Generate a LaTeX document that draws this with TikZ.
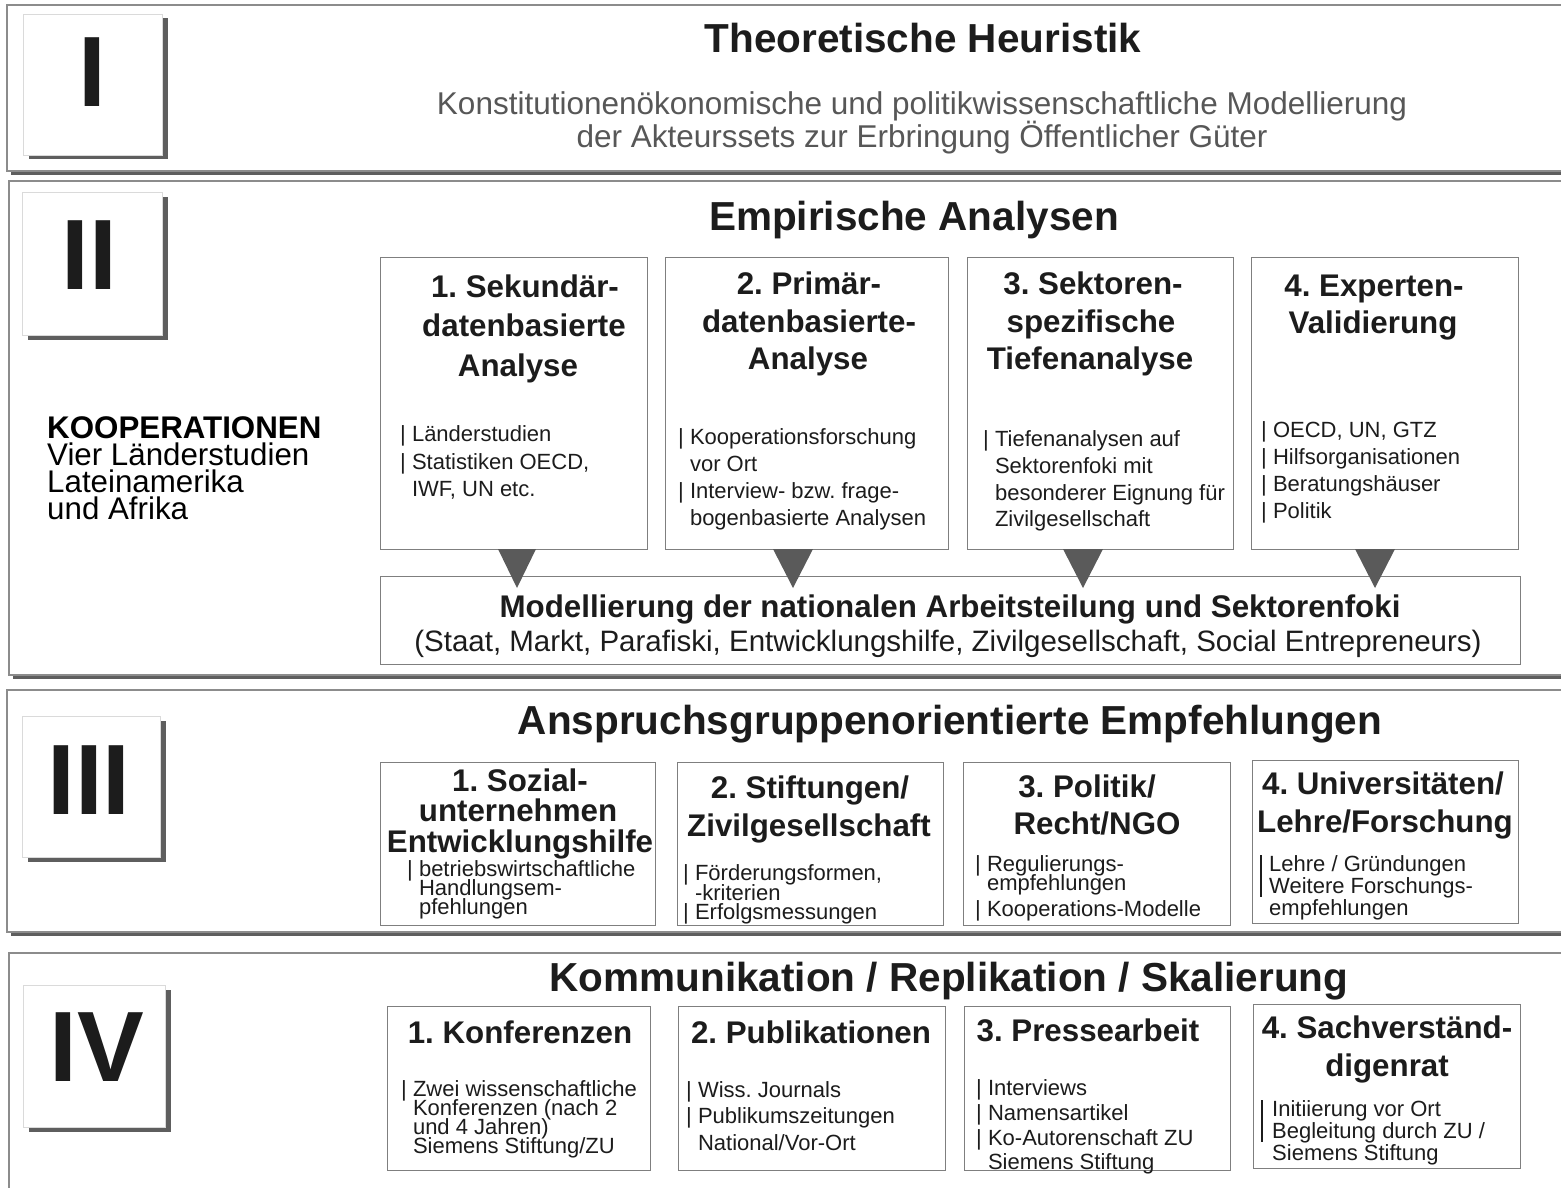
\documentclass[tikz,border=0pt]{standalone}
\usepackage{fontspec}
\setmainfont{Liberation Sans}
\usetikzlibrary{shadows}
\definecolor{frameg}{HTML}{8C8C8C}
\definecolor{shad}{HTML}{5E5E5E}
\definecolor{boxg}{HTML}{7F7F7F}
\definecolor{romb}{HTML}{DADADA}
\definecolor{txt}{HTML}{1C1C1C}
\definecolor{subt}{HTML}{575757}
\definecolor{trig}{HTML}{5A5A5A}
\begin{document}
\frenchspacing
\begin{tikzpicture}[x=1pt,y=-1pt,
  sect/.style={draw=frameg, line width=1.3pt, fill=white, drop shadow={shadow xshift=4pt, shadow yshift=-4pt, fill=shad, opacity=1}},
  rbox/.style={draw=romb, line width=1pt, fill=white, inner sep=0, anchor=north west, drop shadow={shadow xshift=5pt, shadow yshift=-4pt, fill=shad, opacity=1}},
  cbox/.style={draw=boxg, line width=1.2pt, fill=white, inner sep=0, anchor=north west},
  rom/.style={font=\fontsize{100}{100}\selectfont\bfseries, text=txt, anchor=base, inner sep=0},
  ttl/.style={font=\fontsize{40.5}{48}\selectfont\bfseries, text=txt, anchor=base, inner sep=0},
  sub/.style={font=\fontsize{31.5}{36}\selectfont, text=subt, anchor=base, inner sep=0},
  hd/.style={font=\fontsize{31.3}{36}\selectfont\bfseries, text=txt, anchor=base, inner sep=0},
  wide/.style={font=\fontsize{29.5}{36}\selectfont, text=txt, anchor=base, inner sep=0},
  bd/.style={font=\fontsize{22}{26}\selectfont, text=txt, anchor=base west, inner sep=0},
  koop/.style={font=\fontsize{31.3}{27}\selectfont, text=black, anchor=north west, inner sep=0, align=left},
  trian/.style={fill=trig},
  vbar/.style={draw=txt, line width=1.2pt}
]
\useasboundingbox (0,0) rectangle (1561,1188);
\newcommand{\ind}{\phantom{|}\ }

% ---------- section frames
\draw[sect] (7,5) rectangle (1575,171);
\draw[sect] (9,181) rectangle (1575,675);
\draw[sect] (7,690) rectangle (1575,932);
\draw[sect] (9,953) rectangle (1575,1200);

% ---------- roman numeral boxes
\node[rbox, minimum width=139pt, minimum height=141pt] (r1) at (23,14) {};
\node[rbox, minimum width=140pt, minimum height=143pt] (r2) at (22,192) {};
\node[rbox, minimum width=138pt, minimum height=141pt] (r3) at (22,716) {};
\node[rbox, minimum width=142pt, minimum height=142pt] (r4) at (23,985) {};
\node[rom] (n1) at (92,107) {I};
\node[rom] (n2) at (89,289) {II};
\node[rom] (n3) at (89,814) {III};
\node[rom] (n4) at (97,1081) {IV};

% ---------- section I
\node[ttl] (t1) at (923,53) {Theoretische Heuristik};
\node[sub] (s1a) at (922,115) {Konstitutionenökonomische und politikwissenschaftliche Modellierung};
\node[sub] (s1b) at (922,148) {der Akteurssets zur Erbringung Öffentlicher Güter};

% ---------- section II
\node[ttl] (t2) at (914,230) {Empirische Analysen};
\node[koop] (k1) at (47,416.5) {\textbf{KOOPERATIONEN}\\Vier Länderstudien\\Lateinamerika\\und Afrika};

\node[cbox, minimum width=267pt, minimum height=292pt] (b21) at (380,257) {};
\node[cbox, minimum width=283pt, minimum height=292pt] (b22) at (665,257) {};
\node[cbox, minimum width=266pt, minimum height=292pt] (b23) at (967,257) {};
\node[cbox, minimum width=267pt, minimum height=292pt] (b24) at (1251,257) {};
\node[cbox, minimum width=1140pt, minimum height=88pt] (w2) at (380,576) {};

\fill[trian] (498,549) -- (536,549) -- (517,588) -- cycle;
\fill[trian] (773,549) -- (813,549) -- (793,588) -- cycle;
\fill[trian] (1063,549) -- (1103,549) -- (1083,588) -- cycle;
\fill[trian] (1355,549) -- (1395,549) -- (1375,588) -- cycle;

\node[hd] (h211) at (525,297) {1. Sekundär-};
\node[hd] (h212) at (524,336) {datenbasierte};
\node[hd] (h213) at (518,376) {Analyse};
\node[bd] (d211) at (400,441) {| Länderstudien};
\node[bd] (d212) at (400,469) {| Statistiken OECD,};
\node[bd] (d213) at (400,496) {\ind IWF, UN etc.};

\node[hd] (h221) at (809,294) {2. Primär-};
\node[hd] (h222) at (809,332) {datenbasierte-};
\node[hd] (h223) at (808,369) {Analyse};
\node[bd] (d221) at (678,444) {| Kooperationsforschung};
\node[bd] (d222) at (678,471) {\ind vor Ort};
\node[bd] (d223) at (678,498) {| Interview- bzw. frage-};
\node[bd] (d224) at (678,525) {\ind bogenbasierte Analysen};

\node[hd] (h231) at (1093,294) {3. Sektoren-};
\node[hd] (h232) at (1091,332) {spezifische};
\node[hd] (h233) at (1090,369) {Tiefenanalyse};
\node[bd] (d231) at (983,446) {| Tiefenanalysen auf};
\node[bd] (d232) at (983,473) {\ind Sektorenfoki mit};
\node[bd] (d233) at (983,500) {\ind besonderer Eignung für};
\node[bd] (d234) at (983,526) {\ind Zivilgesellschaft};

\node[hd] (h241) at (1374,296) {4. Experten-};
\node[hd] (h242) at (1373,333) {Validierung};
\node[bd] (d241) at (1261,437) {| OECD, UN, GTZ};
\node[bd] (d242) at (1261,464) {| Hilfsorganisationen};
\node[bd] (d243) at (1261,491) {| Beratungshäuser};
\node[bd] (d244) at (1261,518) {| Politik};

\node[hd] (wa) at (950,617) {Modellierung der nationalen Arbeitsteilung und Sektorenfoki};
\node[wide] (wb) at (948,651) {(Staat, Markt, Parafiski, Entwicklungshilfe, Zivilgesellschaft, Social Entrepreneurs)};

% ---------- section III
\node[ttl] (t3) at (950,734) {Anspruchsgruppenorientierte Empfehlungen};
\node[cbox, minimum width=275pt, minimum height=163pt] (b31) at (380,762) {};
\node[cbox, minimum width=266pt, minimum height=163pt] (b32) at (677,762) {};
\node[cbox, minimum width=267pt, minimum height=163pt] (b33) at (963,762) {};
\node[cbox, minimum width=266pt, minimum height=163pt] (b34) at (1252,760) {};

\node[hd] (h311) at (520,791) {1. Sozial-};
\node[hd] (h312) at (518,821) {unternehmen};
\node[hd] (h313) at (520,852) {Entwicklungshilfe};
\node[bd] (d311) at (407,876) {| betriebswirtschaftliche};
\node[bd] (d312) at (407,895) {\ind Handlungsem-};
\node[bd] (d313) at (407,914) {\ind pfehlungen};

\node[hd] (h321) at (810,798) {2. Stiftungen/};
\node[hd] (h322) at (809,836) {Zivilgesellschaft};
\node[bd] (d321) at (683,880) {| Förderungsformen,};
\node[bd] (d322) at (683,900) {\ind -kriterien};
\node[bd] (d323) at (683,919) {| Erfolgsmessungen};

\node[hd] (h331) at (1087,797) {3. Politik/};
\node[hd] (h332) at (1097,834) {Recht/NGO};
\node[bd] (d331) at (975,871) {| Regulierungs-};
\node[bd] (d332) at (975,890) {\ind empfehlungen};
\node[bd] (d333) at (975,916) {| Kooperations-Modelle};

\node[hd] (h341) at (1383,794) {4. Universitäten/};
\node[hd] (h342) at (1385,832) {Lehre/Forschung};
\coordinate (v3a) at (1261,855);
\coordinate (v3b) at (1261,897);
\draw[vbar] (v3a) -- (v3b);
\node[bd] (d341) at (1269,871) {Lehre / Gründungen};
\node[bd] (d342) at (1269,893) {Weitere Forschungs-};
\node[bd] (d343) at (1269,915) {empfehlungen};

% ---------- section IV
\node[ttl] (t4) at (949,991) {Kommunikation / Replikation / Skalierung};
\node[cbox, minimum width=263pt, minimum height=164pt] (b41) at (387,1006) {};
\node[cbox, minimum width=267pt, minimum height=164pt] (b42) at (678,1006) {};
\node[cbox, minimum width=266pt, minimum height=164pt] (b43) at (964,1006) {};
\node[cbox, minimum width=267pt, minimum height=164pt] (b44) at (1253,1004) {};

\node[hd] (h411) at (520,1043) {1. Konferenzen};
\node[bd] (d411) at (401,1096) {| Zwei wissenschaftliche};
\node[bd] (d412) at (401,1115) {\ind Konferenzen (nach 2};
\node[bd] (d413) at (401,1134) {\ind und 4 Jahren)};
\node[bd] (d414) at (401,1153) {\ind Siemens Stiftung/ZU};

\node[hd] (h421) at (811,1043) {2. Publikationen};
\node[bd] (d421) at (686,1097) {| Wiss. Journals};
\node[bd] (d422) at (686,1123) {| Publikumszeitungen};
\node[bd] (d423) at (686,1150) {\ind National/Vor-Ort};

\node[hd] (h431) at (1088,1041) {3. Pressearbeit};
\node[bd] (d431) at (976,1095) {| Interviews};
\node[bd] (d432) at (976,1120) {| Namensartikel};
\node[bd] (d433) at (976,1145) {| Ko-Autorenschaft ZU};
\node[bd] (d434) at (976,1169) {\ind Siemens Stiftung};

\node[hd] (h441) at (1387,1038) {4. Sachverständ-};
\node[hd] (h442) at (1387,1076) {digenrat};
\coordinate (v4a) at (1262,1100);
\coordinate (v4b) at (1262,1142);
\draw[vbar] (v4a) -- (v4b);
\node[bd] (d441) at (1272,1116) {Initiierung vor Ort};
\node[bd] (d442) at (1272,1138) {Begleitung durch ZU /};
\node[bd] (d443) at (1272,1160) {Siemens Stiftung};
\end{tikzpicture}
\end{document}
